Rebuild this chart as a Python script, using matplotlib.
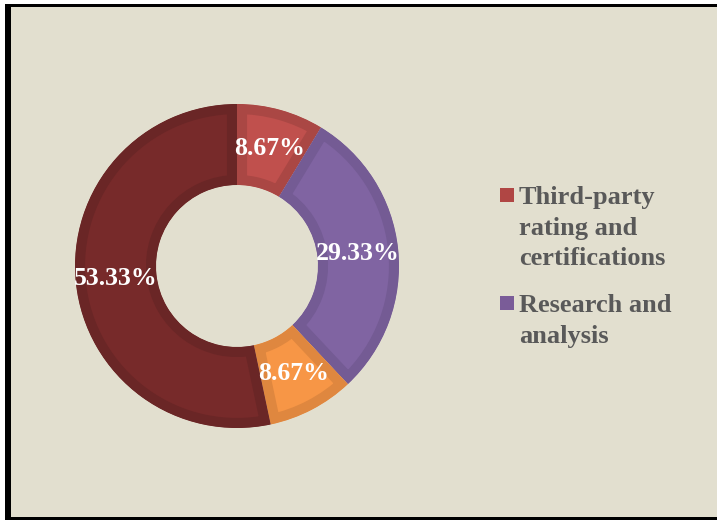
import matplotlib
matplotlib.use("Agg")
import matplotlib.pyplot as plt
from matplotlib.patches import Rectangle

# slice values, clockwise from 12 o'clock
values = [8.67, 29.33, 8.67, 53.33]
pct_labels = ["8.67%", "29.33%", "8.67%", "53.33%"]
fill_colors = ["#c0504d", "#8064a2", "#f79646", "#772a2a"]
edge_colors = ["#aa4744", "#745b94", "#df873f", "#6a2626"]

# only two entries are visible in the legend
legend_labels = ["Third-party\nrating and\ncertifications", "Research and\nanalysis"]
legend_colors = ["#b04644", "#7a5c98"]

W, H = 717, 520
fig = plt.figure(figsize=(W / 100, H / 100), dpi=100, facecolor="white")

# framed beige background
fig.patches.append(Rectangle((5 / 100, -0.1), 8, (H - 4) / 100 + 0.1,
                             transform=fig.dpi_scale_trans, facecolor="black",
                             edgecolor="none", zorder=-2))
fig.patches.append(Rectangle((11 / 100, 3 / 100), 8, (H - 10) / 100,
                             transform=fig.dpi_scale_trans, facecolor="#e2dfcf",
                             edgecolor="none", zorder=-1))

cx, cy, r = 237, 266, 162
ax = fig.add_axes([(cx - r) / W, (H - cy - r) / H, 2 * r / W, 2 * r / H])
ax.set_facecolor("none")

wedges, texts, autotexts = ax.pie(
    values, startangle=90, counterclock=False, colors=fill_colors,
    radius=1, pctdistance=0.75, autopct=lambda p: "",
    wedgeprops=dict(width=0.5, linewidth=0))

ax.set_xlim(-1, 1)
ax.set_ylim(-1, 1)
ax.set_aspect("equal")
ax.axis("off")

for w, ec, at, lab in zip(wedges, edge_colors, autotexts, pct_labels):
    # inner darker rim: stroke twice as wide, clipped to the wedge itself
    w.set_edgecolor(ec)
    w.set_linewidth(14.5)
    w.set_joinstyle("miter")
    w.set_clip_on(True)
    w.set_clip_path(w.get_path(), w.get_transform())
    at.set_text(lab)
    at.set_color("white")
    at.set_fontsize(18.5)
    at.set_fontweight("bold")
    at.set_fontfamily("Liberation Serif")

# legend drawn by hand so the swatch sits on the first line
ly = 195
for lab, col in zip(legend_labels, legend_colors):
    fig.patches.append(Rectangle((500 / W, (H - ly - 7) / H), 14 / W, 14 / H,
                                 transform=fig.transFigure, facecolor=col,
                                 edgecolor="none"))
    fig.text(519 / W, (H - ly + 9) / H, lab, ha="left", va="top",
             fontsize=19, fontweight="bold", family="Liberation Serif",
             color="#595959", linespacing=1.43)
    ly += 31 * lab.count("\n") + 46

fig.savefig("out.png", dpi=100, facecolor="white")
